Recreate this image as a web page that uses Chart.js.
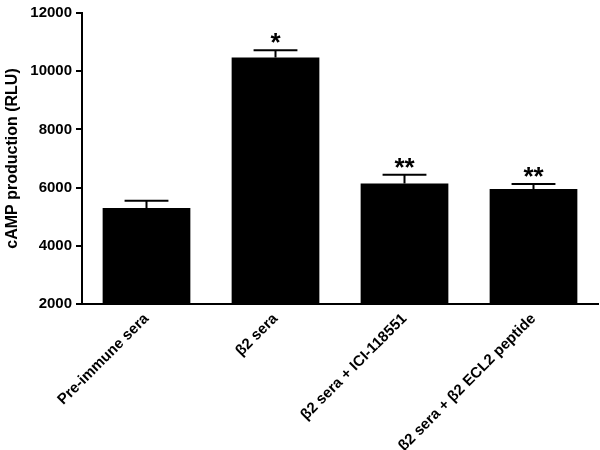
<!DOCTYPE html>
<html>
<head>
<meta charset="utf-8">
<script src="https://cdn.jsdelivr.net/npm/chart.js@4.4.0/dist/chart.umd.min.js"></script>
<style>
  html, body { margin: 0; padding: 0; background: #fff; }
  #wrap { width: 600px; height: 450px; }
</style>
</head>
<body>
<div id="wrap"><canvas id="c" width="600" height="450"></canvas></div>
<script>
const categories = ["Pre-immune sera", "β2 sera", "β2 sera + ICI-118551", "β2 sera + β2 ECL2 peptide"];
const means = [5300, 10475, 6140, 5950];
const errors = [245, 245, 305, 170];
const significance = ["", "*", "**", "**"];
const yTicks = [2000, 4000, 6000, 8000, 10000, 12000];

const FONT = "'Liberation Sans', Arial, Helvetica, sans-serif";

const errorBarPlugin = {
  id: 'errorBars',
  afterDatasetsDraw(chart) {
    const ctx = chart.ctx;
    const meta = chart.getDatasetMeta(0);
    const yScale = chart.scales.y;
    ctx.save();
    ctx.strokeStyle = '#000';
    ctx.fillStyle = '#000';
    ctx.lineWidth = 2;
    meta.data.forEach((bar, i) => {
      const x = bar.x;
      const yTop = yScale.getPixelForValue(means[i] + errors[i]);
      const yBar = yScale.getPixelForValue(means[i]);
      const half = bar.width / 4;
      ctx.beginPath();
      ctx.moveTo(x, yBar);
      ctx.lineTo(x, yTop);
      ctx.moveTo(x - half, yTop);
      ctx.lineTo(x + half, yTop);
      ctx.stroke();
      if (significance[i]) {
        ctx.font = "bold 26px " + FONT;
        ctx.textAlign = 'center';
        ctx.textBaseline = 'alphabetic';
        ctx.fillText(significance[i], x, yTop + 1);
      }
    });
    ctx.restore();
  }
};

new Chart(document.getElementById('c'), {
  type: 'bar',
  data: {
    labels: categories,
    datasets: [{
      data: means,
      backgroundColor: '#000',
      borderWidth: 0,
      barPercentage: 0.68,
      categoryPercentage: 1.0
    }]
  },
  options: {
    responsive: false,
    animation: false,
    devicePixelRatio: 1,
    layout: { padding: { top: 7, right: 2, left: 3, bottom: 0 } },
    plugins: { legend: { display: false }, tooltip: { enabled: false } },
    scales: {
      x: {
        grid: { display: false, drawTicks: false },
        border: { display: true, color: '#000', width: 2 },
        ticks: {
          color: '#000',
          font: { family: FONT, size: 15, weight: 'bold' },
          maxRotation: 45,
          minRotation: 45,
          padding: 6,
          autoSkip: false
        },
        afterFit(scale) { scale.height = 146; }
      },
      y: {
        min: 2000,
        max: 12000,
        afterBuildTicks(scale) { scale.ticks = yTicks.map(v => ({ value: v })); },
        grid: { drawOnChartArea: false, drawTicks: true, tickLength: 6, color: '#000', lineWidth: 2 },
        border: { display: true, color: '#000', width: 2 },
        ticks: {
          color: '#000',
          font: { family: FONT, size: 15, weight: 'bold' },
          padding: 4,
          callback: (v) => String(v)
        },
        title: {
          display: true,
          text: 'cAMP production (RLU)',
          color: '#000',
          font: { family: FONT, size: 16, weight: 'bold' },
          padding: { top: 0, bottom: 8 }
        },
        afterFit(scale) { scale.width = 79; }
      }
    }
  },
  plugins: [errorBarPlugin]
});
</script>
</body>
</html>
